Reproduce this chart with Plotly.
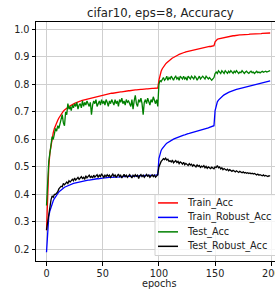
import plotly.graph_objects as go

# ---- data ----
train_acc = [
    0.27,0.42,0.50,0.55,0.58,0.605,0.625,0.64,0.652,0.662,0.67,0.678,0.685,0.692,0.698,0.703,0.707,0.711,0.714,0.717,
    0.72,0.722,0.725,0.727,0.729,0.731,0.733,0.734,0.736,0.737,0.739,0.741,0.742,0.743,0.745,0.746,0.747,0.749,0.750,0.751,
    0.752,0.753,0.754,0.755,0.756,0.757,0.758,0.759,0.760,0.761,0.762,0.763,0.763,0.764,0.765,0.766,0.766,0.767,0.768,0.768,
    0.769,0.770,0.770,0.771,0.772,0.772,0.773,0.773,0.774,0.775,0.775,0.776,0.776,0.777,0.777,0.778,0.778,0.779,0.779,0.780,
    0.780,0.781,0.781,0.782,0.782,0.782,0.783,0.783,0.784,0.784,0.784,0.785,0.785,0.785,0.786,0.786,0.786,0.787,0.787,0.787,
    0.815,0.835,0.848,0.857,0.864,0.870,0.875,0.879,0.883,0.887,0.890,0.893,0.896,0.898,0.901,0.903,0.905,0.907,0.909,0.911,
    0.912,0.914,0.915,0.917,0.918,0.919,0.921,0.922,0.923,0.924,0.925,0.926,0.927,0.928,0.929,0.930,0.931,0.932,0.933,0.933,
    0.934,0.935,0.936,0.936,0.937,0.938,0.938,0.939,0.940,0.941,
    0.955,0.961,0.964,0.966,0.967,0.968,0.969,0.970,0.971,0.972,0.973,0.974,0.974,0.975,0.976,0.976,0.977,0.977,0.978,0.978,
    0.979,0.979,0.980,0.980,0.980,0.981,0.981,0.981,0.982,0.982,0.982,0.983,0.983,0.983,0.984,0.984,0.984,0.984,0.985,0.985,
    0.985,0.985,0.986,0.986,0.986,0.986,0.986,0.987,0.987,0.987,
]

train_robust_acc = [
    0.19,0.28,0.32,0.34,0.355,0.367,0.377,0.385,0.392,0.398,0.404,0.409,0.413,0.417,0.420,0.423,0.426,0.428,0.430,0.432,
    0.434,0.436,0.437,0.439,0.440,0.441,0.442,0.443,0.444,0.445,0.447,0.447,0.448,0.449,0.450,0.450,0.451,0.452,0.452,0.453,
    0.454,0.454,0.455,0.455,0.456,0.457,0.457,0.458,0.458,0.459,0.460,0.460,0.460,0.461,0.461,0.461,0.462,0.462,0.462,0.463,
    0.463,0.463,0.463,0.464,0.464,0.464,0.464,0.465,0.465,0.465,0.465,0.465,0.466,0.466,0.466,0.466,0.466,0.467,0.467,0.467,
    0.467,0.467,0.467,0.468,0.468,0.468,0.468,0.468,0.469,0.469,0.469,0.469,0.469,0.470,0.470,0.470,0.470,0.470,0.471,0.471,
    0.530,0.550,0.560,0.567,0.573,0.578,0.582,0.586,0.589,0.592,0.595,0.597,0.599,0.601,0.603,0.605,0.607,0.609,0.611,0.612,
    0.613,0.615,0.616,0.617,0.619,0.620,0.621,0.622,0.623,0.625,0.626,0.627,0.628,0.629,0.630,0.632,0.633,0.634,0.635,0.636,
    0.638,0.639,0.640,0.641,0.642,0.644,0.645,0.646,0.648,0.650,
    0.705,0.728,0.737,0.743,0.748,0.752,0.756,0.759,0.762,0.765,0.768,0.770,0.771,0.773,0.775,0.776,0.778,0.779,0.781,0.782,
    0.783,0.784,0.786,0.787,0.788,0.789,0.790,0.791,0.792,0.793,0.794,0.795,0.796,0.797,0.798,0.799,0.800,0.801,0.802,0.803,
    0.804,0.805,0.806,0.807,0.808,0.809,0.810,0.811,0.812,0.813,
]

test_acc = [
    0.36,0.46,0.52,0.55,0.58,0.61,0.60,0.63,0.64,0.63,0.65,0.64,0.655,0.67,0.69,0.66,0.65,0.70,0.69,0.73,
    0.71,0.72,0.705,0.725,0.715,0.73,0.72,0.735,0.71,0.725,0.73,0.715,0.74,0.72,0.735,0.725,0.74,0.73,0.72,0.735,
    0.69,0.725,0.74,0.73,0.745,0.72,0.735,0.74,0.725,0.745,0.73,0.74,0.725,0.745,0.735,0.72,0.74,0.73,0.745,0.735,
    0.725,0.745,0.73,0.74,0.72,0.745,0.735,0.75,0.73,0.74,0.725,0.745,0.735,0.74,0.73,0.72,0.745,0.71,0.74,0.76,
    0.73,0.72,0.745,0.735,0.75,0.73,0.69,0.735,0.745,0.73,0.75,0.74,0.725,0.745,0.735,0.755,0.74,0.73,0.745,0.72,
    0.80,0.815,0.81,0.82,0.825,0.815,0.82,0.83,0.815,0.825,0.82,0.83,0.82,0.815,0.825,0.83,0.82,0.825,0.815,0.83,
    0.825,0.82,0.83,0.82,0.825,0.815,0.83,0.825,0.82,0.83,0.825,0.82,0.83,0.825,0.815,0.825,0.83,0.82,0.825,0.83,
    0.825,0.82,0.83,0.825,0.82,0.825,0.82,0.815,0.82,0.825,
    0.84,0.845,0.84,0.85,0.845,0.84,0.85,0.845,0.84,0.85,0.845,0.84,0.848,0.843,0.85,0.845,0.84,0.848,0.843,0.85,
    0.845,0.84,0.845,0.843,0.85,0.845,0.84,0.845,0.848,0.843,0.84,0.845,0.848,0.843,0.845,0.84,0.845,0.848,0.843,0.845,
    0.842,0.846,0.848,0.844,0.846,0.848,0.845,0.847,0.849,0.85,
]

test_robust_acc = [
    0.27,0.30,0.33,0.36,0.38,0.395,0.39,0.40,0.40,0.405,0.41,0.42,0.425,0.43,0.428,0.44,0.435,0.44,0.445,0.44,
    0.45,0.445,0.45,0.455,0.45,0.46,0.452,0.458,0.462,0.455,0.46,0.465,0.458,0.462,0.455,0.468,0.46,0.465,0.47,0.462,
    0.466,0.46,0.47,0.463,0.468,0.472,0.462,0.47,0.465,0.475,0.468,0.462,0.47,0.465,0.472,0.466,0.47,0.462,0.468,0.474,
    0.466,0.471,0.462,0.469,0.474,0.465,0.47,0.46,0.468,0.473,0.465,0.47,0.462,0.468,0.472,0.466,0.46,0.47,0.465,0.472,
    0.466,0.47,0.458,0.468,0.472,0.465,0.47,0.462,0.468,0.473,0.466,0.47,0.462,0.468,0.471,0.465,0.47,0.463,0.468,0.472,
    0.50,0.515,0.52,0.525,0.53,0.527,0.532,0.525,0.528,0.52,0.522,0.518,0.525,0.515,0.52,0.523,0.516,0.52,0.512,0.518,
    0.515,0.51,0.517,0.508,0.513,0.51,0.505,0.512,0.507,0.51,0.503,0.508,0.505,0.50,0.507,0.502,0.505,0.498,0.503,0.50,
    0.505,0.497,0.502,0.495,0.50,0.497,0.494,0.499,0.495,0.493,
    0.50,0.498,0.505,0.497,0.50,0.493,0.497,0.49,0.494,0.491,0.488,0.492,0.486,0.49,0.487,0.484,0.488,0.485,0.482,0.486,
    0.483,0.48,0.484,0.481,0.479,0.482,0.478,0.48,0.477,0.479,0.476,0.478,0.475,0.477,0.474,0.476,0.473,0.471,0.474,0.47,
    0.472,0.469,0.468,0.471,0.467,0.469,0.466,0.465,0.468,0.467,
]

series_names = ["Train_Acc", "Train_Robust_Acc", "Test_Acc", "Test_Robust_Acc"]
series_values = [train_acc, train_robust_acc, test_acc, test_robust_acc]
series_colors = ["#ff0000", "#0000ff", "#008000", "#000000"]

x_ticks = [0, 50, 100, 150, 200]
y_ticks = [0.2, 0.3, 0.4, 0.5, 0.6, 0.7, 0.8, 0.9, 1.0]
title_text = "cifar10, eps=8, Accuracy"
x_label = "epochs"

FONT = "DejaVu Sans"

fig = go.Figure()
for name, vals, col in zip(series_names, series_values, series_colors):
    fig.add_trace(go.Scatter(
        x=list(range(len(vals))), y=vals, mode="lines", name=name,
        line=dict(color=col, width=1.3), showlegend=False,
    ))

W, H = 275, 290
L, R, T, B = 36, 0, 22, 28.5
pw, ph = W - L - R, H - T - B

def px(xp):
    return (xp - L) / pw

def py(yp):
    return (H - B - yp) / ph

axis_common = dict(
    showgrid=True, gridcolor="#cfcfcf", gridwidth=1, automargin=False,
    zeroline=False, ticks="outside", ticklen=3.5, tickwidth=1, tickcolor="black",
    linecolor="black", linewidth=1, showline=True, ticklabeloverflow="allow",
    tickfont=dict(family=FONT, size=9.7, color="#222222"),
)

fig.update_layout(
    width=W, height=H,
    margin=dict(l=L, r=R, t=T, b=B, pad=0),
    paper_bgcolor="white", plot_bgcolor="white",
    font=dict(family=FONT, size=9.7, color="#222222"),
    xaxis=dict(range=[-9.35, 203.3], tickvals=x_ticks, mirror=True, **axis_common),
    yaxis=dict(range=[0.158, 1.027], tickvals=y_ticks, tickformat=".1f", **axis_common),
)

# title
fig.add_annotation(text=title_text, xref="paper", yref="paper",
                   x=px(160), y=py(13), xanchor="center", yanchor="middle",
                   showarrow=False, font=dict(family=FONT, size=11.7, color="#222222"))
# x-axis label
fig.add_annotation(text=x_label, xref="paper", yref="paper",
                   x=px(159), y=py(284.5), xanchor="center", yanchor="middle",
                   showarrow=False, font=dict(family=FONT, size=9.7, color="#222222"))

# legend (drawn manually to match compact matplotlib spacing)
fig.add_shape(type="rect", xref="paper", yref="paper",
              x0=px(155), x1=px(290), y0=py(256), y1=py(195),
              line=dict(color="#d0d0d0", width=1), fillcolor="rgba(255,255,255,0.8)",
              layer="above")
rows_y = [203.3, 217.8, 232.3, 246.8]
for name, col, ry in zip(series_names, series_colors, rows_y):
    fig.add_shape(type="line", xref="paper", yref="paper",
                  x0=px(158), x1=px(178), y0=py(ry), y1=py(ry),
                  line=dict(color=col, width=1.5), layer="above")
    fig.add_annotation(text=name, xref="paper", yref="paper",
                       x=px(185), y=py(ry), xanchor="left", yanchor="middle",
                       showarrow=False, font=dict(family=FONT, size=9.7, color="#222222"))

fig.write_html("out.html", config={"displayModeBar": False},
               post_script="document.body.style.margin='0px';document.body.style.overflow='hidden';")
